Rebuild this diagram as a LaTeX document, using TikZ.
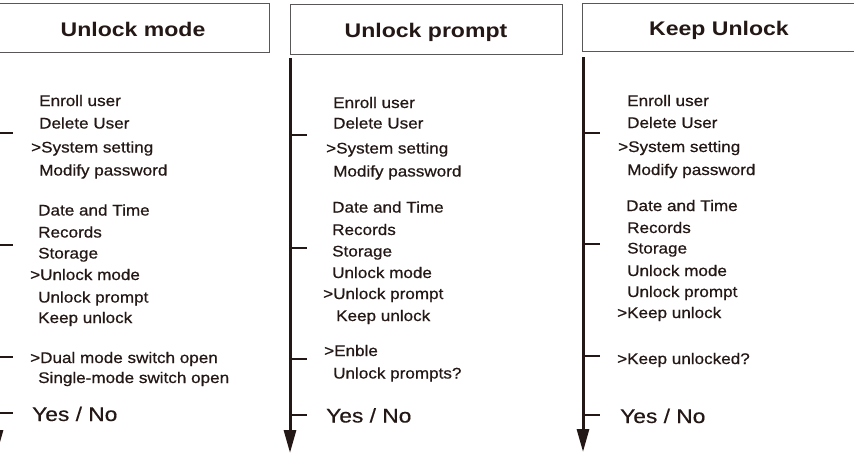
\documentclass[tikz,border=0pt]{standalone}
\usepackage{fontspec}
\usetikzlibrary{arrows.meta}
\newfontfamily\bodyf[FakeStretch=1.11,FakeBold=0.6]{Liberation Sans}
\newfontfamily\titlef[FakeStretch=1.17]{Liberation Sans}
\newfontfamily\yesf[FakeStretch=1.15,FakeBold=0.4]{Liberation Sans}
\definecolor{ink}{HTML}{231815}
\definecolor{frame}{HTML}{595757}
\begin{document}
\begin{tikzpicture}[x=1pt,y=-1pt,
  item/.style={anchor=base west, inner sep=0pt, text=ink, font=\bodyf\fontsize{15.4pt}{18pt}\selectfont},
  yesno/.style={anchor=base west, inner sep=0pt, text=ink, font=\yesf\fontsize{19.8pt}{22pt}\selectfont},
  titlebox/.style={draw=frame, line width=1pt, inner sep=0pt, text=ink, minimum width=272pt,
    text height=17pt, text depth=0pt, font=\titlef\bfseries\fontsize{19.7pt}{22pt}\selectfont},
  flow/.style={draw=ink, line width=3pt, -{Triangle[length=23pt,width=12pt]}},
  tickline/.style={draw=ink, line width=1.8pt}]
\useasboundingbox (0,0) rectangle (854,455);
\fill[white] (0,0) rectangle (854,455);

% ---------- Panel 1 ----------
\node[titlebox, minimum height=49pt] (b1) at (133,27.5) {Unlock mode};
\coordinate (p1top) at (-3,57);
\coordinate (p1bot) at (-3,453);
\draw[flow] (p1top) -- (p1bot);
\foreach \yy [count=\i] in {133,245,357,413} {
  \coordinate (p1s\i) at (-3,\yy);
  \coordinate (p1e\i) at (13,\yy);
  \draw[tickline] (p1s\i) -- (p1e\i);
}
\node[item] (a1) at (39,106) {Enroll user};
\node[item] (a2) at (39,128.5) {Delete User};
\node[item] (a3) at (31,152.5) {>System setting};
\node[item] (a4) at (39,175.5) {Modify password};
\node[item] (a5) at (38,215.5) {Date and Time};
\node[item] (a6) at (38,237.5) {Records};
\node[item] (a7) at (38,258.5) {Storage};
\node[item] (a8) at (30,280) {>Unlock mode};
\node[item] (a9) at (38,302.5) {Unlock prompt};
\node[item] (a10) at (38,323) {Keep unlock};
\node[item] (a11) at (30,363) {>Dual mode switch open};
\node[item] (a12) at (38,383) {Single-mode switch open};
\node[yesno] (a13) at (32,421) {Yes / No};

% ---------- Panel 2 ----------
\node[titlebox, minimum height=50pt] (b2) at (426,29) {Unlock prompt};
\coordinate (p2top) at (290,58);
\coordinate (p2bot) at (290,453);
\draw[flow] (p2top) -- (p2bot);
\foreach \yy [count=\i] in {135,248,359,415} {
  \coordinate (p2s\i) at (290,\yy);
  \coordinate (p2e\i) at (307,\yy);
  \draw[tickline] (p2s\i) -- (p2e\i);
}
\node[item] (c1) at (333,108) {Enroll user};
\node[item] (c2) at (333,128.5) {Delete User};
\node[item] (c3) at (326,153.5) {>System setting};
\node[item] (c4) at (333,176.5) {Modify password};
\node[item] (c5) at (332,212.5) {Date and Time};
\node[item] (c6) at (332,235) {Records};
\node[item] (c7) at (332,256.5) {Storage};
\node[item] (c8) at (332,278) {Unlock mode};
\node[item] (c9) at (323,299) {>Unlock prompt};
\node[item] (c10) at (336,321) {Keep unlock};
\node[item] (c11) at (324,356) {>Enble};
\node[item] (c12) at (333,378.5) {Unlock prompts?};
\node[yesno] (c13) at (326,422.5) {Yes / No};

% ---------- Panel 3 ----------
\node[titlebox, minimum height=48pt, minimum width=274pt] (b3) at (719,27) {Keep Unlock};
\coordinate (p3top) at (583,57);
\coordinate (p3bot) at (583,452);
\draw[flow] (p3top) -- (p3bot);
\foreach \yy [count=\i] in {133,244,356,415} {
  \coordinate (p3s\i) at (583,\yy);
  \coordinate (p3e\i) at (600,\yy);
  \draw[tickline] (p3s\i) -- (p3e\i);
}
\node[item] (d1) at (627,106) {Enroll user};
\node[item] (d2) at (627,128) {Delete User};
\node[item] (d3) at (618,152) {>System setting};
\node[item] (d4) at (627,175) {Modify password};
\node[item] (d5) at (626,211) {Date and Time};
\node[item] (d6) at (627,233) {Records};
\node[item] (d7) at (627,253.5) {Storage};
\node[item] (d8) at (627,276) {Unlock mode};
\node[item] (d9) at (627,297) {Unlock prompt};
\node[item] (d10) at (617,318) {>Keep unlock};
\node[item] (d11) at (617,364) {>Keep unlocked?};
\node[yesno] (d12) at (620,423) {Yes / No};
\end{tikzpicture}
\end{document}
